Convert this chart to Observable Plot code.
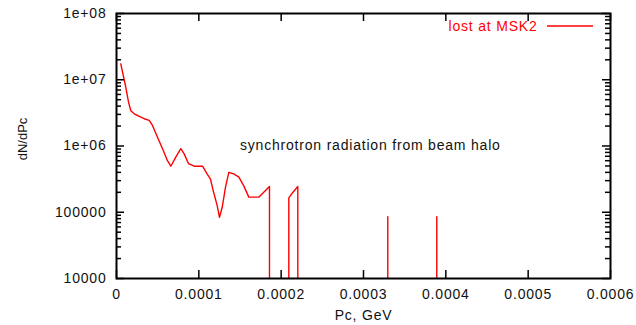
<!DOCTYPE html>
<html><head><meta charset="utf-8">
<script src="https://cdn.jsdelivr.net/npm/d3@7"></script>
<script src="https://cdn.jsdelivr.net/npm/@observablehq/plot@0.6"></script>
<style>body{margin:0;background:#fff} svg text{letter-spacing:0.8px}</style>
</head><body><div id="chart"></div>
<script>
// Momentum Pc (GeV) and dN/dPc values.
// Empty bins (zero counts) are stored as 1, which lies below the plotted range and is clipped.
const pc = [5.2e-6, 1.13e-5, 1.46e-5, 1.74e-5, 2.15e-5, 2.76e-5, 3.36e-5, 3.97e-5, 4.37e-5, 4.98e-5,
  5.59e-5, 6.19e-5, 6.6e-5, 7.2e-5, 7.81e-5, 8.22e-5, 8.75e-5, 9.44e-5, 1.045e-4, 1.10e-4,
  1.14e-4, 1.18e-4, 1.223e-4, 1.251e-4, 1.284e-4, 1.324e-4, 1.364e-4, 1.425e-4, 1.486e-4, 1.546e-4,
  1.607e-4, 1.728e-4, 1.858e-4, 1.858e-4, 2.093e-4, 2.093e-4, 2.134e-4, 2.202e-4, 2.202e-4,
  3.295e-4, 3.295e-4, 3.295e-4, 3.89e-4, 3.89e-4, 3.89e-4];
const dndpc = [1.74e7, 7.7e6, 4.6e6, 3.4e6, 3.06e6, 2.79e6, 2.58e6, 2.43e6, 2.04e6, 1.36e6,
  9.1e5, 6.0e5, 4.95e5, 6.8e5, 9.1e5, 7.6e5, 5.4e5, 4.95e5, 4.95e5, 3.8e5,
  3.2e5, 2.0e5, 1.26e5, 8.4e4, 1.19e5, 2.39e5, 4.0e5, 3.8e5, 3.4e5, 2.5e5,
  1.69e5, 1.69e5, 2.45e5, 1, 1, 1.65e5, 1.94e5, 2.45e5, 1,
  1, 8.6e4, 1, 1, 8.6e4, 1];

const xTicks = [0, 0.0001, 0.0002, 0.0003, 0.0004, 0.0005, 0.0006];
const xTickLabels = ["0", "0.0001", "0.0002", "0.0003", "0.0004", "0.0005", "0.0006"];
const yTicks = [1e4, 1e5, 1e6, 1e7, 1e8];
const yTickLabels = ["10000", "100000", "1e+06", "1e+07", "1e+08"];
const seriesName = "lost at MSK2";
const note = "synchrotron radiation from beam halo";
const noteAt = {x: 1.5e-4, y: 1e6};
const xLabel = "Pc, GeV";
const yLabel = "dN/dPc";

const W = 636, H = 325, ml = 116, mr = 26, mt = 13, mb = 47;
const fw = W - ml - mr, fh = H - mt - mb;
const red = "#ff0000";
const font = "'Liberation Sans', Arial, Helvetica, sans-serif";

const data = pc.map((x, i) => ({x, y: dndpc[i]}));
const yMinor = d3.scaleLog().domain([1e4, 1e8]).ticks().filter(v => !yTicks.includes(v));

const tk = {stroke: "#000", strokeWidth: 1.5};
const chart = Plot.plot({
  width: W, height: H,
  marginLeft: ml, marginRight: mr, marginTop: mt, marginBottom: mb,
  style: {fontFamily: font, fontSize: "14px", background: "#fff", color: "#000"},
  x: {domain: [0, 0.0006], axis: null},
  y: {type: "log", domain: [1e4, 1e8], axis: null},
  marks: [
    Plot.line(data, {x: "x", y: "y", stroke: red, strokeWidth: 1.4, clip: true}),
    // inward gnuplot-style ticks, mirrored on all four sides
    Plot.ruleY(yMinor, {...tk, y: d => d, insetLeft: 0, insetRight: fw - 5}),
    Plot.ruleY(yMinor, {...tk, y: d => d, insetLeft: fw - 5, insetRight: 0}),
    Plot.ruleY(yTicks, {...tk, y: d => d, insetLeft: 0, insetRight: fw - 8}),
    Plot.ruleY(yTicks, {...tk, y: d => d, insetLeft: fw - 8, insetRight: 0}),
    Plot.ruleX(xTicks, {...tk, x: d => d, insetTop: fh - 8, insetBottom: 0}),
    Plot.ruleX(xTicks, {...tk, x: d => d, insetTop: 0, insetBottom: fh - 8}),
    Plot.frame({stroke: "#000", strokeWidth: 2}),
    Plot.text(yTicks, {y: d => d, text: (d, i) => yTickLabels[i], frameAnchor: "left", textAnchor: "end", lineAnchor: "middle", dx: -10, fontSize: 14, fill: "#111"}),
    Plot.text(xTicks, {x: d => d, text: (d, i) => xTickLabels[i], frameAnchor: "bottom", textAnchor: "middle", lineAnchor: "middle", dy: 16, fontSize: 14, fill: "#111"}),
    Plot.text([xLabel], {text: d => d, frameAnchor: "bottom", textAnchor: "middle", lineAnchor: "middle", dy: 37, fontSize: 14, fill: "#111"}),
    Plot.text([yLabel], {text: d => d, frameAnchor: "left", textAnchor: "middle", lineAnchor: "middle", rotate: -90, dx: -94, dy: -7, fontSize: 13, fill: "#111"}),
    Plot.text([noteAt], {x: "x", y: "y", text: () => note, textAnchor: "start", lineAnchor: "middle", fontSize: 14, fill: "#111"}),
    Plot.text([seriesName], {text: d => d, frameAnchor: "top-right", textAnchor: "end", lineAnchor: "middle", dx: -73, dy: 13, fontSize: 14, fill: red})
  ]
});

const svg = d3.select(chart);
svg.selectAll("text").filter(function() { return this.textContent === yLabel; })
  .style("letter-spacing", "0px");

// legend sample line
svg.append("line")
  .attr("x1", W - mr - 63).attr("x2", W - mr - 17)
  .attr("y1", mt + 13).attr("y2", mt + 13)
  .attr("stroke", red).attr("stroke-width", 1.4);

document.getElementById("chart").appendChild(chart);
</script>
</body></html>
